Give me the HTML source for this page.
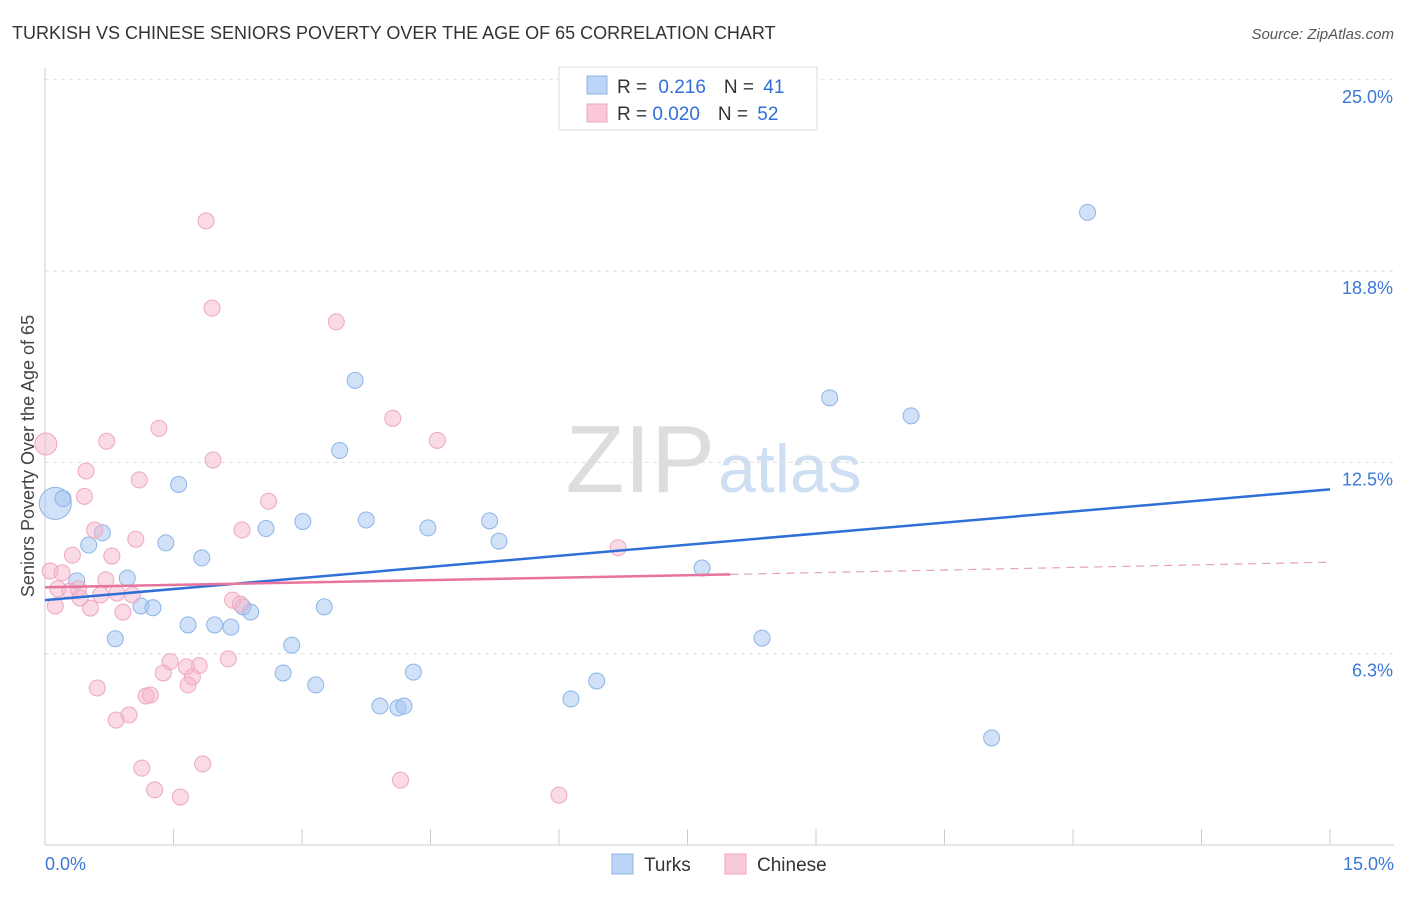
<!DOCTYPE html>
<html><head><meta charset="utf-8"><style>
body{margin:0;background:#fff;font-family:"Liberation Sans",sans-serif}
svg text{font-family:"Liberation Sans",sans-serif}
</style></head><body>
<svg id="c" width="1406" height="892">
<text x="12" y="39" font-size="18" fill="#333">TURKISH VS CHINESE SENIORS POVERTY OVER THE AGE OF 65 CORRELATION CHART</text>
<text x="1394" y="39" font-size="15" fill="#555" font-style="italic" text-anchor="end">Source: ZipAtlas.com</text>
<text x="34" y="456" font-size="18" fill="#444" text-anchor="middle" transform="rotate(-90 34 456)">Seniors Poverty Over the Age of 65</text>
<text x="715" y="492" font-size="96" fill="#ddd" text-anchor="end" font-family="Liberation Serif">ZIP</text>
<text x="718" y="492" font-size="68" fill="#cfdff3">atlas</text>
<g id="grid"></g><g id="pts"></g><g id="lines"></g>
<g>
<rect x="559" y="67" width="258" height="63" fill="#fff" stroke="#ddd"/>
<rect x="587" y="76" width="20" height="18" fill="#bcd4f5" stroke="#8db4e8"/>
<rect x="587" y="104" width="20" height="18" fill="#f9c9d8" stroke="#eea8bf"/>
<text x="617" y="93" font-size="19" fill="#333">R = <tspan fill="#2f6fd6" dx="6">0.216</tspan><tspan dx="18" fill="#333">N = </tspan><tspan fill="#2f6fd6" dx="4">41</tspan></text>
<text x="617" y="120" font-size="19" fill="#333">R = <tspan fill="#2f6fd6">0.020</tspan><tspan dx="18" fill="#333">N = </tspan><tspan fill="#2f6fd6" dx="4">52</tspan></text>
</g>
<g>
<rect x="612" y="854" width="21" height="20" fill="#bcd4f5" stroke="#8db4e8"/>
<text x="644" y="871" font-size="19" fill="#333">Turks</text>
<rect x="725" y="854" width="21" height="20" fill="#f9c9d8" stroke="#eea8bf"/>
<text x="757" y="871" font-size="19" fill="#333">Chinese</text>
</g>
</svg>
<script>
const turksX=[12.17,3.62,9.16,10.11,3.44,1.56,0.12,0.21,2.58,3.01,3.75,4.47,5.19,5.3,0.67,0.51,1.41,1.83,0.37,0.96,7.67,1.12,1.26,2.31,2.4,3.26,0.82,1.67,1.98,2.17,2.88,8.37,2.78,3.16,4.3,6.44,6.14,3.91,4.12,4.19,11.05];
const turksY=[20.67,15.18,14.61,14.02,12.89,11.78,11.16,11.32,10.34,10.57,10.62,10.36,10.59,9.93,10.2,9.8,9.87,9.38,8.63,8.72,9.05,7.81,7.75,7.78,7.61,7.78,6.74,7.19,7.19,7.12,6.53,6.76,5.62,5.23,5.65,5.36,4.77,4.54,4.48,4.54,3.5];
const chinX=[0.01,1.88,1.95,3.4,4.06,1.33,0.72,4.58,0.48,1.96,1.1,0.46,2.61,0.58,2.3,1.06,0.32,0.78,6.69,0.06,0.2,0.15,0.29,0.39,0.71,0.65,0.84,1.02,0.12,0.53,0.91,2.19,1.46,1.8,1.65,2.14,1.38,1.72,1.67,0.61,1.18,1.23,0.98,0.83,1.13,1.84,4.15,1.28,1.58,6.0,0.41,2.28];
const chinY=[13.1,20.39,17.54,17.09,13.94,13.61,13.19,13.22,12.22,12.58,11.93,11.39,11.23,10.29,10.29,9.99,9.47,9.44,9.71,8.95,8.89,8.37,8.3,8.37,8.66,8.17,8.23,8.17,7.81,7.74,7.61,8.0,5.99,5.86,5.82,6.08,5.62,5.49,5.23,5.13,4.87,4.9,4.25,4.08,2.51,2.65,2.12,1.8,1.57,1.63,8.07,7.87];
const yTicks=[25,18.75,12.5,6.25], yTickLabels=["25.0%","18.8%","12.5%","6.3%"];
const trend={turks:[8.0,11.62],chinSolid:[8.42,8.84],chinEnd:9.24};
const X=v=>45+v/15*1285, Y=v=>845-v/6.25*191.3;
const NS="http://www.w3.org/2000/svg";
function mk(p,t,a){const e=document.createElementNS(NS,t);for(const k in a)e.setAttribute(k,a[k]);p.appendChild(e);return e;}
const g=document.getElementById('grid');
yTicks.forEach((t,i)=>{
 const l=mk(g,'line',{x1:45,x2:1394,y1:Y(t),y2:Y(t),stroke:'#ddd','stroke-dasharray':'4 4'});
 
 
 const tx=mk(g,'text',{x:1393,y:Y(t)+23,'font-size':18,fill:'#3b78d8','text-anchor':'end'});
 tx.textContent=yTickLabels[i];
 
 
});
mk(g,'line',{x1:45,x2:45,y1:68,y2:845,stroke:'#ccc'});
mk(g,'line',{x1:45,x2:1394,y1:845,y2:845,stroke:'#ccc'});
for(let i=0;i<=10;i++){const x=X(i*1.5);const t=mk(g,'line',{x1:x,x2:x,y1:829,y2:845,stroke:'#ccc'});
 
 }
let a=mk(g,'text',{x:45,y:870,'font-size':18,fill:'#3b78d8'});a.textContent='0.0%';


a=mk(g,'text',{x:1394,y:870,'font-size':18,fill:'#3b78d8','text-anchor':'end'});a.textContent='15.0%';


const p=document.getElementById('pts');
turksX.forEach((x,i)=>{const c=mk(p,'circle',{cx:X(x),cy:Y(turksY[i]),r:i==6?16:8,fill:'rgba(164,196,240,0.5)',stroke:'#8db4e8','stroke-width':1});
 
 });
chinX.forEach((x,i)=>{const c=mk(p,'circle',{cx:X(x),cy:Y(chinY[i]),r:i==0?11:8,fill:'rgba(246,182,202,0.5)',stroke:'#eea8bf','stroke-width':1});
 
 });
const L=document.getElementById('lines');
let t=mk(L,'line',{x1:X(0),y1:Y(trend.turks[0]),x2:X(15),y2:Y(trend.turks[1]),stroke:'#2f6fd6','stroke-width':2.5});


t=mk(L,'line',{x1:X(0),y1:Y(trend.chinSolid[0]),x2:X(8),y2:Y(trend.chinSolid[1]),stroke:'#e8739c','stroke-width':2.5});


t=mk(L,'line',{x1:X(8),y1:Y(trend.chinSolid[1]),x2:X(15),y2:Y(trend.chinEnd),stroke:'#e8a0b8','stroke-width':1.2,'stroke-dasharray':'8 6'});


</script>
</body></html>
